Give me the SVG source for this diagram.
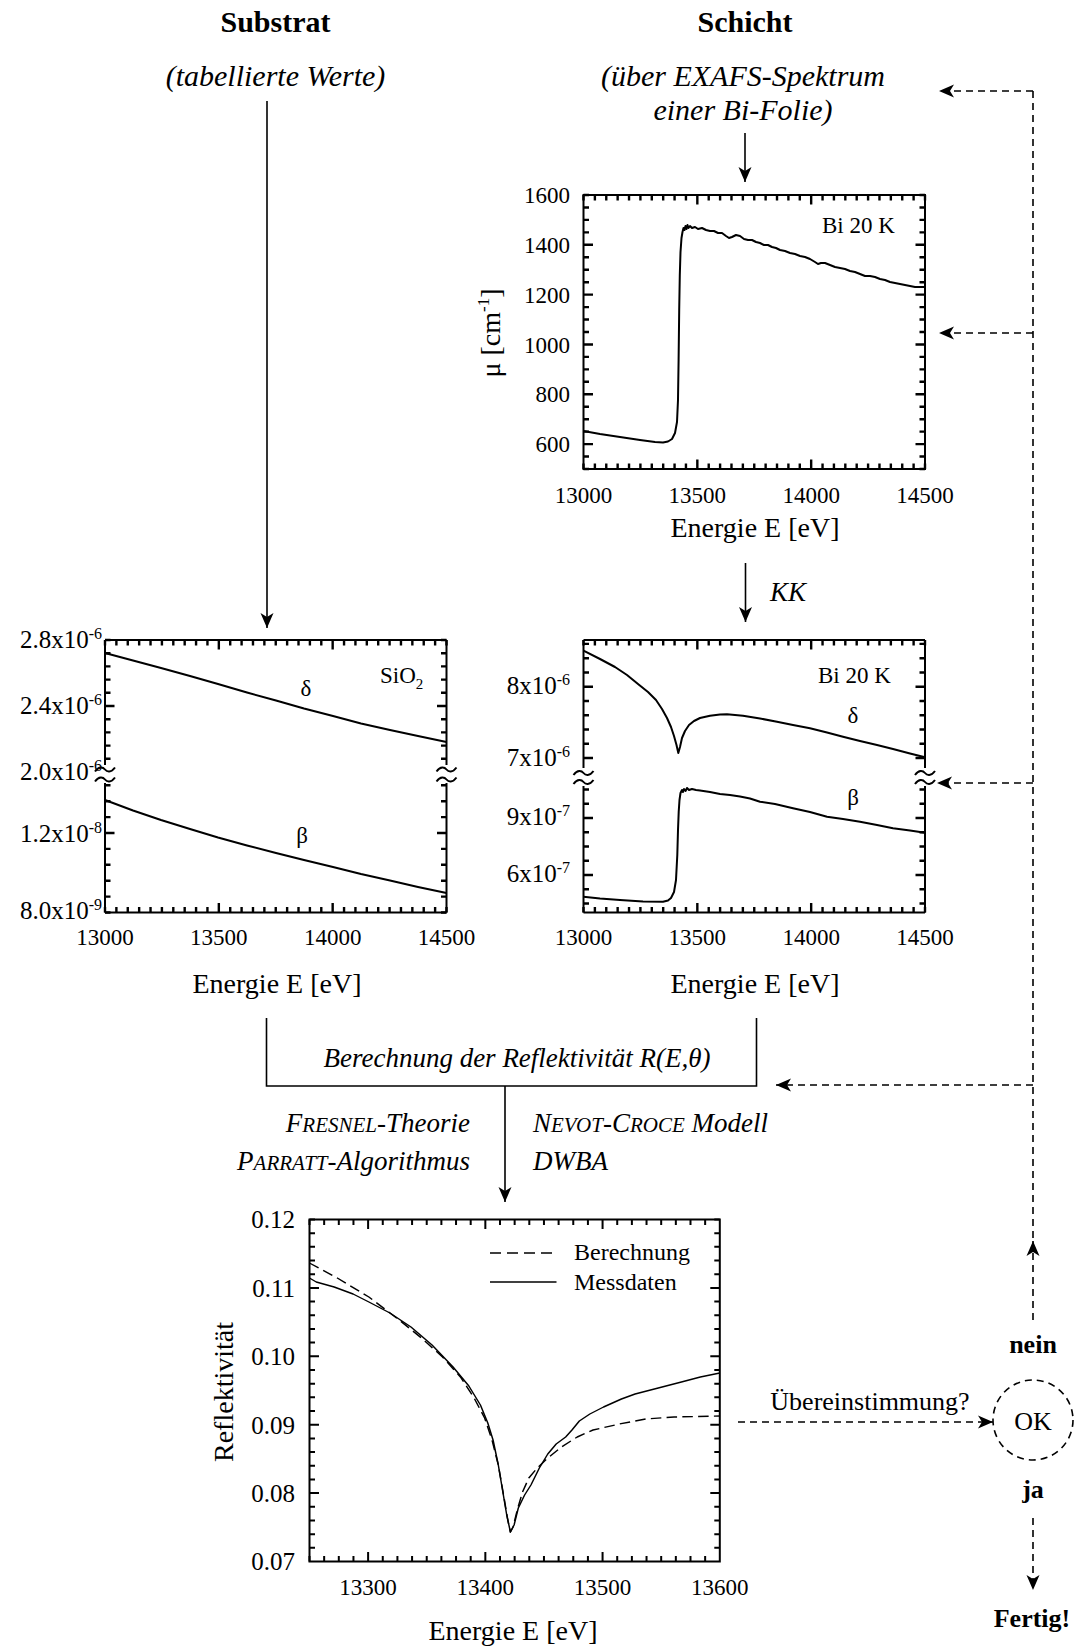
<svg xmlns="http://www.w3.org/2000/svg" width="1076" height="1649" viewBox="0 0 1076 1649">
<style>
text{font-family:"Liberation Serif","Times New Roman",serif;fill:#000}
.c{text-anchor:middle}
.e{text-anchor:end}
.i{font-style:italic}
.b{font-weight:bold}
.h{font-size:30px}
.m{font-size:26px}
.m27{font-size:27px}
.t{font-size:23px}
.t25{font-size:25px}
.ax{font-size:28px}
.fr{fill:none;stroke:#000;stroke-width:2}
.cv{fill:none;stroke:#000;stroke-width:2;stroke-linejoin:round}
.cv4{fill:none;stroke:#000;stroke-width:1.4;stroke-linejoin:round}
.ln{fill:none;stroke:#000;stroke-width:1.6}
.ds{fill:none;stroke:#000;stroke-width:1.6;stroke-dasharray:7 5}
</style>
<defs>
<marker id="ah" markerUnits="userSpaceOnUse" orient="auto" overflow="visible" markerWidth="1" markerHeight="1" refX="0" refY="0">
<path d="M0,0 L-15,-6.5 L-11,0 L-15,6.5 Z" fill="#000" stroke="none"/>
</marker>
<path id="tx50" fill="none" stroke="#000" stroke-width="2.4" d="M0,0v-5.5m11.3833,5.5v-5.5m11.3833,5.5v-5.5m11.3833,5.5v-5.5m11.3833,5.5v-5.5m11.3833,5.5v-5.5m11.3833,5.5v-5.5m11.3833,5.5v-5.5m11.3833,5.5v-5.5m11.3833,5.5v-5.5m11.3833,5.5v-5.5m11.3833,5.5v-5.5m11.3833,5.5v-5.5m11.3833,5.5v-5.5m11.3833,5.5v-5.5m11.3833,5.5v-5.5m11.3833,5.5v-5.5m11.3833,5.5v-5.5m11.3833,5.5v-5.5m11.3833,5.5v-5.5m11.3833,5.5v-5.5m11.3833,5.5v-5.5m11.3833,5.5v-5.5m11.3833,5.5v-5.5m11.3833,5.5v-5.5m11.3833,5.5v-5.5m11.3833,5.5v-5.5m11.3833,5.5v-5.5m11.3833,5.5v-5.5m11.3833,5.5v-5.5m11.3833,5.5v-5.5 M113.833,0v-9.5 M227.667,0v-9.5"/>
<path id="ty1" fill="none" stroke="#000" stroke-width="2.4" d="M0,0h5.5m-5.5,12.4545h5.5m-5.5,12.4545h5.5m-5.5,12.4545h5.5m-5.5,12.4545h5.5m-5.5,12.4545h5.5m-5.5,12.4545h5.5m-5.5,12.4545h5.5m-5.5,12.4545h5.5m-5.5,12.4545h5.5m-5.5,12.4545h5.5m-5.5,12.4545h5.5m-5.5,12.4545h5.5m-5.5,12.4545h5.5m-5.5,12.4545h5.5m-5.5,12.4545h5.5m-5.5,12.4545h5.5m-5.5,12.4545h5.5m-5.5,12.4545h5.5m-5.5,12.4545h5.5m-5.5,12.4545h5.5m-5.5,12.4545h5.5m-5.5,12.4545h5.5 M0,49.818h9.5 M0,99.636h9.5 M0,149.455h9.5 M0,199.273h9.5 M0,249.091h9.5"/>
<path id="ty2" fill="none" stroke="#000" stroke-width="2.4" d="M0,0h5.5m-5.5,13.2h5.5m-5.5,13.2h5.5m-5.5,13.2h5.5m-5.5,13.2h5.5m-5.5,13.2h5.5m-5.5,13.2h5.5m-5.5,13.2h5.5m-5.5,13.2h5.5m-5.5,13.2h5.5 M0,66h9.5 M0,272.5h5.5m-5.5,-15.9h5.5m-5.5,-15.9h5.5m-5.5,-15.9h5.5m-5.5,-15.9h5.5m-5.5,-15.9h5.5m-5.5,-15.9h5.5m-5.5,-15.9h5.5m-5.5,-15.9h5.5 M0,193h9.5"/>
<path id="ty3" fill="none" stroke="#000" stroke-width="2.4" d="M0,118h5.5m-5.5,-14.26h5.5m-5.5,-14.26h5.5m-5.5,-14.26h5.5m-5.5,-14.26h5.5m-5.5,-14.26h5.5m-5.5,-14.26h5.5m-5.5,-14.26h5.5m-5.5,-14.26h5.5 M0,118h9.5 M0,46.7h9.5 M0,263.5h5.5m-5.5,-14.25h5.5m-5.5,-14.25h5.5m-5.5,-14.25h5.5m-5.5,-14.25h5.5m-5.5,-14.25h5.5m-5.5,-14.25h5.5m-5.5,-14.25h5.5m-5.5,-14.25h5.5 M0,235h9.5 M0,178h9.5"/>
<path id="tx4" fill="none" stroke="#000" stroke-width="2" d="M0,0v-5.5m14.6536,5.5v-5.5m14.6536,5.5v-5.5m14.6536,5.5v-5.5m14.6536,5.5v-5.5m14.6536,5.5v-5.5m14.6536,5.5v-5.5m14.6536,5.5v-5.5m14.6536,5.5v-5.5m14.6536,5.5v-5.5m14.6536,5.5v-5.5m14.6536,5.5v-5.5m14.6536,5.5v-5.5m14.6536,5.5v-5.5m14.6536,5.5v-5.5m14.6536,5.5v-5.5m14.6536,5.5v-5.5m14.6536,5.5v-5.5m14.6536,5.5v-5.5m14.6536,5.5v-5.5m14.6536,5.5v-5.5m14.6536,5.5v-5.5m14.6536,5.5v-5.5m14.6536,5.5v-5.5m14.6536,5.5v-5.5m14.6536,5.5v-5.5m14.6536,5.5v-5.5m14.6536,5.5v-5.5 M58.61,0v-9.5 M175.84,0v-9.5 M293.07,0v-9.5"/>
<path id="ty4" fill="none" stroke="#000" stroke-width="2" d="M0,0h5.5m-5.5,13.68h5.5m-5.5,13.68h5.5m-5.5,13.68h5.5m-5.5,13.68h5.5m-5.5,13.68h5.5m-5.5,13.68h5.5m-5.5,13.68h5.5m-5.5,13.68h5.5m-5.5,13.68h5.5m-5.5,13.68h5.5m-5.5,13.68h5.5m-5.5,13.68h5.5m-5.5,13.68h5.5m-5.5,13.68h5.5m-5.5,13.68h5.5m-5.5,13.68h5.5m-5.5,13.68h5.5m-5.5,13.68h5.5m-5.5,13.68h5.5m-5.5,13.68h5.5m-5.5,13.68h5.5m-5.5,13.68h5.5m-5.5,13.68h5.5m-5.5,13.68h5.5 M0,68.4h9.5 M0,136.8h9.5 M0,205.2h9.5 M0,273.6h9.5"/>
</defs>
<rect width="1076" height="1649" fill="#fff"/>

<g id="header">
<text class="c b h" x="275.5" y="32">Substrat</text>
<text class="c b h" x="745" y="32">Schicht</text>
<text class="c i h" x="275.5" y="86">(tabellierte Werte)</text>
<text class="c i h" x="743" y="86">(über EXAFS-Spektrum</text>
<text class="c i h" x="743" y="120">einer Bi-Folie)</text>
</g>

<g id="plot-mu">
<rect class="fr" x="583.5" y="195" width="341.5" height="274"/>
<use href="#tx50" transform="translate(583.5,469)"/>
<use href="#tx50" transform="translate(583.5,195) scale(1,-1)"/>
<use href="#ty1" transform="translate(583.5,195)"/>
<use href="#ty1" transform="translate(925,195) scale(-1,1)"/>
<g class="t">
<text class="e" x="570" y="203">1600</text>
<text class="e" x="570" y="253">1400</text>
<text class="e" x="570" y="303">1200</text>
<text class="e" x="570" y="352.5">1000</text>
<text class="e" x="570" y="402">800</text>
<text class="e" x="570" y="452">600</text>
<text class="c" x="583.5" y="503">13000</text>
<text class="c" x="697.3" y="503">13500</text>
<text class="c" x="811.2" y="503">14000</text>
<text class="c" x="925" y="503">14500</text>
</g>
<text class="c ax" x="755" y="537">Energie E [eV]</text>
<text class="c ax" transform="translate(500,333) rotate(-90)">μ [cm<tspan font-size="17" dy="-11">-1</tspan><tspan dy="11">]</tspan></text>
<text class="t" x="822" y="233">Bi 20 K</text>
<polyline class="cv" points="583.5,431 600,434 620,437 640,440 655,442 663,442.5 668,441.5 672,439 675,433 677,422 678,400 678.6,360 679.2,310 679.8,275 680.5,252 681.5,238 682.5,232 683.5,228 684.5,230 685.5,226 686.5,229 687.5,225 688.5,228 690,226 692,228 695,227 698,229 702,228 706,230 710,231 714,231 718,233 722,233 726,236 729,238 732,237 736,235 740,236 744,239 748,240 752,240 756,242 760,243 764,245 768,245 772,247 776,248 780,250 785,251 790,253 795,254 800,256 805,257 810,259 815,262 818,264 821,263 825,263 830,265 835,267 840,268 845,269 850,271 855,272 860,274 865,276 870,276 875,277 880,279 885,280 890,282 895,283 900,284 905,285 910,286 915,287 920,287 925,287"/>
</g>

<g id="plot-sio2">
<path class="fr" d="M105,640 H446.5 M105,912.5 H446.5 M105,640 V765 M105,783 V912.5 M446.5,640 V765 M446.5,783 V912.5"/>
<path class="fr" d="M95,771.5 C99,766 103,767 105,769.5 S111,773 115,767.5 M95,781.5 C99,776 103,777 105,779.5 S111,783 115,777.5 M436.5,771.5 C440.5,766 444.5,767 446.5,769.5 S452.5,773 456.5,767.5 M436.5,781.5 C440.5,776 444.5,777 446.5,779.5 S452.5,783 456.5,777.5"/>
<use href="#tx50" transform="translate(105,912.5)"/>
<use href="#tx50" transform="translate(105,640) scale(1,-1)"/>
<use href="#ty2" transform="translate(105,640)"/>
<use href="#ty2" transform="translate(446.5,640) scale(-1,1)"/>
<g class="t25">
<text class="e" x="102" y="648">2.8x10<tspan font-size="16" dy="-9">-6</tspan></text>
<text class="e" x="102" y="714">2.4x10<tspan font-size="16" dy="-9">-6</tspan></text>
<text class="e" x="102" y="780">2.0x10<tspan font-size="16" dy="-9">-6</tspan></text>
<text class="e" x="102" y="842">1.2x10<tspan font-size="16" dy="-9">-8</tspan></text>
<text class="e" x="102" y="919">8.0x10<tspan font-size="16" dy="-9">-9</tspan></text>
</g>
<g class="t">
<text class="c" x="105" y="945">13000</text>
<text class="c" x="218.8" y="945">13500</text>
<text class="c" x="332.7" y="945">14000</text>
<text class="c" x="446.5" y="945">14500</text>
<text x="380" y="683">SiO<tspan font-size="15" dy="6">2</tspan></text>
<text class="c" x="306" y="696">δ</text>
<text class="c" x="302" y="843">β</text>
</g>
<text class="c ax" x="277" y="993">Energie E [eV]</text>
<polyline class="cv" points="105,653 133,660.5 161,668 190,676 218,684 247,692.5 276,700.5 304,708.5 333,716 361,723.5 390,730 418,736 446.5,742"/>
<polyline class="cv" points="105,800 133,810.5 161,820 190,829 218,837.5 247,845.5 276,853 304,860 333,867 361,874 390,880.5 418,887 446.5,893"/>
</g>

<g id="plot-bi">
<path class="fr" d="M583.5,640 H925 M583.5,912.5 H925 M583.5,640 V768 M583.5,786 V912.5 M925,640 V768 M925,786 V912.5"/>
<path class="fr" d="M573.5,775 C577.5,769.5 581.5,770.5 583.5,773 S589.5,776.5 593.5,771 M573.5,784 C577.5,778.5 581.5,779.5 583.5,782 S589.5,785.5 593.5,780 M915,775 C919,769.5 923,770.5 925,773 S931,776.5 935,771 M915,784 C919,778.5 923,779.5 925,782 S931,785.5 935,780"/>
<use href="#tx50" transform="translate(583.5,912.5)"/>
<use href="#tx50" transform="translate(583.5,640) scale(1,-1)"/>
<use href="#ty3" transform="translate(583.5,640)"/>
<use href="#ty3" transform="translate(925,640) scale(-1,1)"/>
<g class="t25">
<text class="e" x="570" y="694">8x10<tspan font-size="16" dy="-9">-6</tspan></text>
<text class="e" x="570" y="766">7x10<tspan font-size="16" dy="-9">-6</tspan></text>
<text class="e" x="570" y="825">9x10<tspan font-size="16" dy="-9">-7</tspan></text>
<text class="e" x="570" y="882">6x10<tspan font-size="16" dy="-9">-7</tspan></text>
</g>
<g class="t">
<text class="c" x="583.5" y="945">13000</text>
<text class="c" x="697.3" y="945">13500</text>
<text class="c" x="811.2" y="945">14000</text>
<text class="c" x="925" y="945">14500</text>
<text x="818" y="683">Bi 20 K</text>
<text class="c" x="853" y="723">δ</text>
<text class="c" x="853" y="805">β</text>
</g>
<text class="c ax" x="755" y="993">Energie E [eV]</text>
<polyline class="cv" points="583.5,650.7 600,659 615,667 627,675 638,684 648,692 656,700 662,709 667,718 671,727 674,736 676.5,745 678.3,753 680,747 682,738 685,731 689,725 694,721 700,718 710,715.7 720,714.5 727,714.3 735,715 743,715.7 760,718.5 777,721.7 793,725 810,728.3 827,732.5 843,736.7 860,741 877,745 893,749 910,753.5 925,757.3"/>
<polyline class="cv" points="583.5,896.7 600,898.5 620,900 643,901.5 663,901.7 668,900.5 671,898 674,892 676,880 677.3,855 678,830 678.7,812 679.5,800 680.5,793 682,790 683,792 684,789 685.5,791 687,788 689,790 692,789 696,790 700,790.5 710,792 720,794 730,795 740,796.5 750,798.5 760,801.7 775,804 793,808.3 810,812 827,816.7 843,819 860,821.7 877,825 893,828.3 910,830.5 925,832.7"/>
</g>

<g id="calc-node">
<path class="ln" d="M266.5,1018 V1086 H756.5 V1018"/>
<text class="c i m27" x="517" y="1067">Berechnung der Reflektivität R(E,θ)</text>
<text class="e i m27" x="470" y="1132">F<tspan font-size="21">RESNEL</tspan>-Theorie</text>
<text class="e i m27" x="470" y="1170">P<tspan font-size="21">ARRATT</tspan>-Algorithmus</text>
<text class="i m27" x="533" y="1132">N<tspan font-size="21">EVOT</tspan>-C<tspan font-size="21">ROCE</tspan> Modell</text>
<text class="i m27" x="533" y="1170">DWBA</text>
</g>

<g id="plot-refl">
<rect class="fr" x="309.5" y="1219.5" width="410.3" height="342"/>
<use href="#tx4" transform="translate(309.5,1561.5)"/>
<use href="#tx4" transform="translate(309.5,1219.5) scale(1,-1)"/>
<use href="#ty4" transform="translate(309.5,1219.5)"/>
<use href="#ty4" transform="translate(719.8,1219.5) scale(-1,1)"/>
<g class="t25">
<text class="e" x="295" y="1228">0.12</text>
<text class="e" x="295" y="1296.5">0.11</text>
<text class="e" x="295" y="1365">0.10</text>
<text class="e" x="295" y="1433.5">0.09</text>
<text class="e" x="295" y="1502">0.08</text>
<text class="e" x="295" y="1570">0.07</text>
</g>
<g class="t">
<text class="c" x="368.1" y="1595">13300</text>
<text class="c" x="485.3" y="1595">13400</text>
<text class="c" x="602.6" y="1595">13500</text>
<text class="c" x="719.8" y="1595">13600</text>
</g>
<text x="574" y="1260" font-size="24">Berechnung</text>
<text x="574" y="1290" font-size="24">Messdaten</text>
<path class="cv4" stroke-dasharray="11 6" d="M490,1253 H552"/>
<path class="cv4" d="M490,1282 H556.5"/>
<text class="c ax" x="513" y="1640">Energie E [eV]</text>
<text class="c ax" transform="translate(233,1392) rotate(-90)" font-size="29">Reflektivität</text>
<g transform="matrix(1.05226,0,0,1,-9.929,0)">
<polyline class="cv4" stroke-dasharray="10 5" points="303.5,1263 330,1278 360,1297 390,1321 410,1338 430,1357 447,1377 460,1398 470,1418 477,1440 483,1465 488,1495 492,1520 494.5,1532 497,1527 501,1510 506,1492 512,1478 520,1468 530,1458 543,1447 558,1437 573,1430 598,1424 623,1419 650,1417 693.5,1416"/>
<polyline class="cv4" points="303.5,1278 310,1282 327,1287 345,1294 360,1302 380,1313 400,1327 420,1345 440,1367 455,1386 466,1405 473,1423 478,1440 483,1465 487,1490 491,1515 494.5,1532 498,1525 502,1508 508,1495 514,1485 522,1468 530,1454 538,1444 547,1437 553,1430 560,1421 570,1414 583,1407 600,1399 613,1394 635,1388 657,1382 675,1377 693.5,1373"/>
</g>
</g>

<g id="ok-node">
<circle class="ds" cx="1033" cy="1420" r="40"/>
<text class="c m" x="1033" y="1430">OK</text>
</g>
<g id="labels-decision">
<text class="c b m" x="1033" y="1353">nein</text>
<text class="c b m" x="1033" y="1498">ja</text>
<text class="c b m" x="1032" y="1627">Fertig!</text>
<text class="c m" x="870" y="1410">Übereinstimmung?</text>
<text class="i" x="770" y="601" font-size="27">KK</text>
</g>

<g id="connectors">
<line class="ln" x1="267" y1="101" x2="267" y2="628" marker-end="url(#ah)"/>
<line class="ln" x1="745" y1="133" x2="745" y2="182" marker-end="url(#ah)"/>
<line class="ln" x1="745.5" y1="563" x2="745.5" y2="622" marker-end="url(#ah)"/>
<line class="ln" x1="505" y1="1086" x2="505" y2="1202" marker-end="url(#ah)"/>
<line class="ds" x1="1033" y1="91" x2="1033" y2="1241"/>
<line class="ds" x1="1033" y1="1320" x2="1033" y2="1241" marker-end="url(#ah)"/>
<line class="ds" x1="1033" y1="91" x2="939" y2="91" marker-end="url(#ah)"/>
<line class="ds" x1="1033" y1="333" x2="939" y2="333" marker-end="url(#ah)"/>
<line class="ds" x1="1033" y1="783" x2="937" y2="783" marker-end="url(#ah)"/>
<line class="ds" x1="1033" y1="1085" x2="776" y2="1085" marker-end="url(#ah)"/>
<line class="ds" x1="738" y1="1422" x2="993" y2="1422" marker-end="url(#ah)"/>
<line class="ds" x1="1033" y1="1518" x2="1033" y2="1590" marker-end="url(#ah)"/>
</g>
</svg>
